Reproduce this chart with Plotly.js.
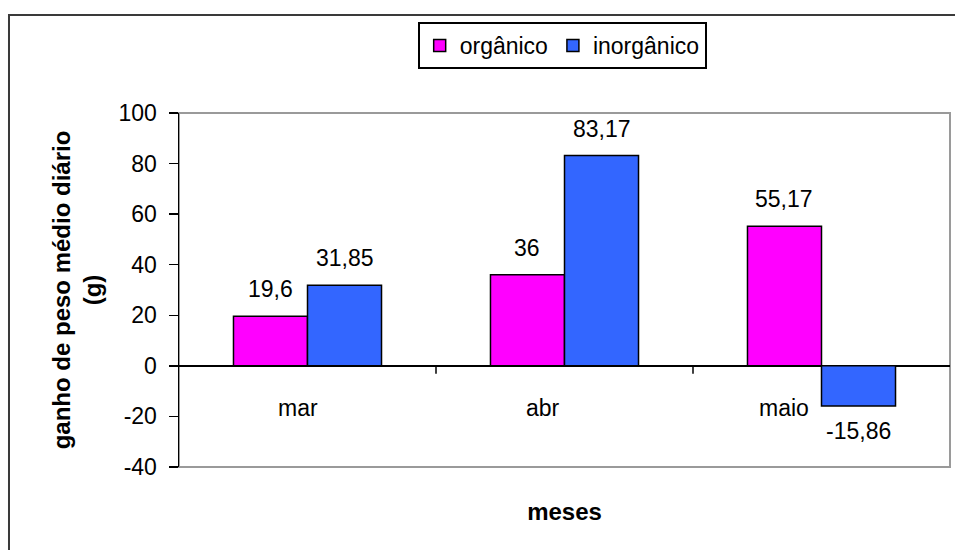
<!DOCTYPE html>
<html>
<head>
<meta charset="utf-8">
<script src="https://cdn.plot.ly/plotly-3.0.1.min.js"></script>
<style>html,body{margin:0;padding:0;background:#fff;}#chart{width:955px;height:550px;}</style>
</head>
<body>
<div id="chart"></div>
<script>
// ---- data ----
const categories = ["mar", "abr", "maio"];
const organico = [19.6, 36, 55.17];
const inorganico = [31.85, 83.17, -15.86];
const seriesNames = ["orgânico", "inorgânico"];
const yTickValues = [-40, -20, 0, 20, 40, 60, 80, 100];
const yTitle = "ganho de peso médio diário<br>(g)";
const xTitle = "meses";

// ---- styling ----
const FONT = "Arial, 'Liberation Sans', sans-serif";
const BARGAP = 0.424;
const fmt = v => String(v).replace('.', ',');

const traces = [
  {type: 'bar', name: seriesNames[0], x: categories, y: organico,
   marker: {color: '#FF00FF', line: {color: '#000', width: 1.5}}, hoverinfo: 'skip'},
  {type: 'bar', name: seriesNames[1], x: categories, y: inorganico,
   marker: {color: '#3366FF', line: {color: '#000', width: 1.5}}, hoverinfo: 'skip'}
];

const annotations = [];
const bw = (1 - BARGAP) / 2;
[organico, inorganico].forEach((arr, s) => {
  arr.forEach((v, i) => {
    annotations.push({
      x: i + (s === 0 ? -bw / 2 : bw / 2), y: v, xref: 'x', yref: 'y',
      text: fmt(v), showarrow: false,
      yanchor: v >= 0 ? 'bottom' : 'top', yshift: v >= 0 ? 12 : -10,
      font: {family: FONT, size: 23, color: '#000'}
    });
  });
});
const catShift = [-10, -22, -38];
categories.forEach((c, i) => {
  annotations.push({
    x: i, y: 0, xref: 'x', yref: 'y', text: c, showarrow: false,
    yanchor: 'middle', yshift: -42, xshift: catShift[i],
    font: {family: FONT, size: 23, color: '#000'}
  });
});

const shapes = [
  // outer chart border (right and bottom sides lie outside the picture)
  {type: 'rect', xref: 'paper', yref: 'paper', x0: -0.2205, x1: 1.1, y0: -0.4, y1: 1.2769,
   line: {color: '#3a3a3a', width: 2}, layer: 'below'},
  // plot area border
  {type: 'rect', xref: 'paper', yref: 'paper', x0: 0, x1: 1, y0: 0, y1: 1,
   line: {color: '#9a9a9a', width: 2}, layer: 'below'}
];
// category boundary ticks on the zero line
for (let i = 0; i < categories.length - 1; i++) {
  shapes.push({type: 'line', xref: 'x', yref: 'y', ysizemode: 'pixel', yanchor: 0,
    x0: i + 0.5, x1: i + 0.5, y0: 0, y1: -8, line: {color: '#000', width: 1.5}});
}

const layout = {
  width: 955, height: 550,
  margin: {l: 179, r: 5, t: 113, b: 83},
  paper_bgcolor: '#fff', plot_bgcolor: '#fff',
  font: {family: FONT, size: 23, color: '#000'},
  barmode: 'group', bargap: BARGAP, bargroupgap: 0,
  showlegend: true,
  legend: {orientation: 'h', x: 0.497, xanchor: 'center', y: 1.257, yanchor: 'top',
    bordercolor: '#000', borderwidth: 2, bgcolor: '#fff',
    font: {family: FONT, size: 23, color: '#000'}},
  xaxis: {type: 'category', showline: false, ticks: '', showticklabels: false,
    showgrid: false, zeroline: false, fixedrange: true,
    title: {text: xTitle, standoff: 36, font: {family: FONT, size: 24, color: '#000', weight: 'bold'}}},
  yaxis: {range: [-40, 100], tickvals: yTickValues, ticktext: yTickValues.map(String),
    showgrid: false, zeroline: true, zerolinecolor: '#000', zerolinewidth: 1.5,
    showline: true, linecolor: '#000', linewidth: 1.5,
    ticks: 'outside', ticklen: 9, tickcolor: '#000', tickwidth: 1.5,
    ticklabelstandoff: 7, fixedrange: true,
    tickfont: {family: FONT, size: 23, color: '#000'},
    title: {text: yTitle, standoff: 10, font: {family: FONT, size: 24, color: '#000', weight: 'bold'}}},
  annotations: annotations,
  shapes: shapes
};

Plotly.newPlot('chart', traces, layout, {displayModeBar: false, staticPlot: true});
</script>
</body>
</html>
